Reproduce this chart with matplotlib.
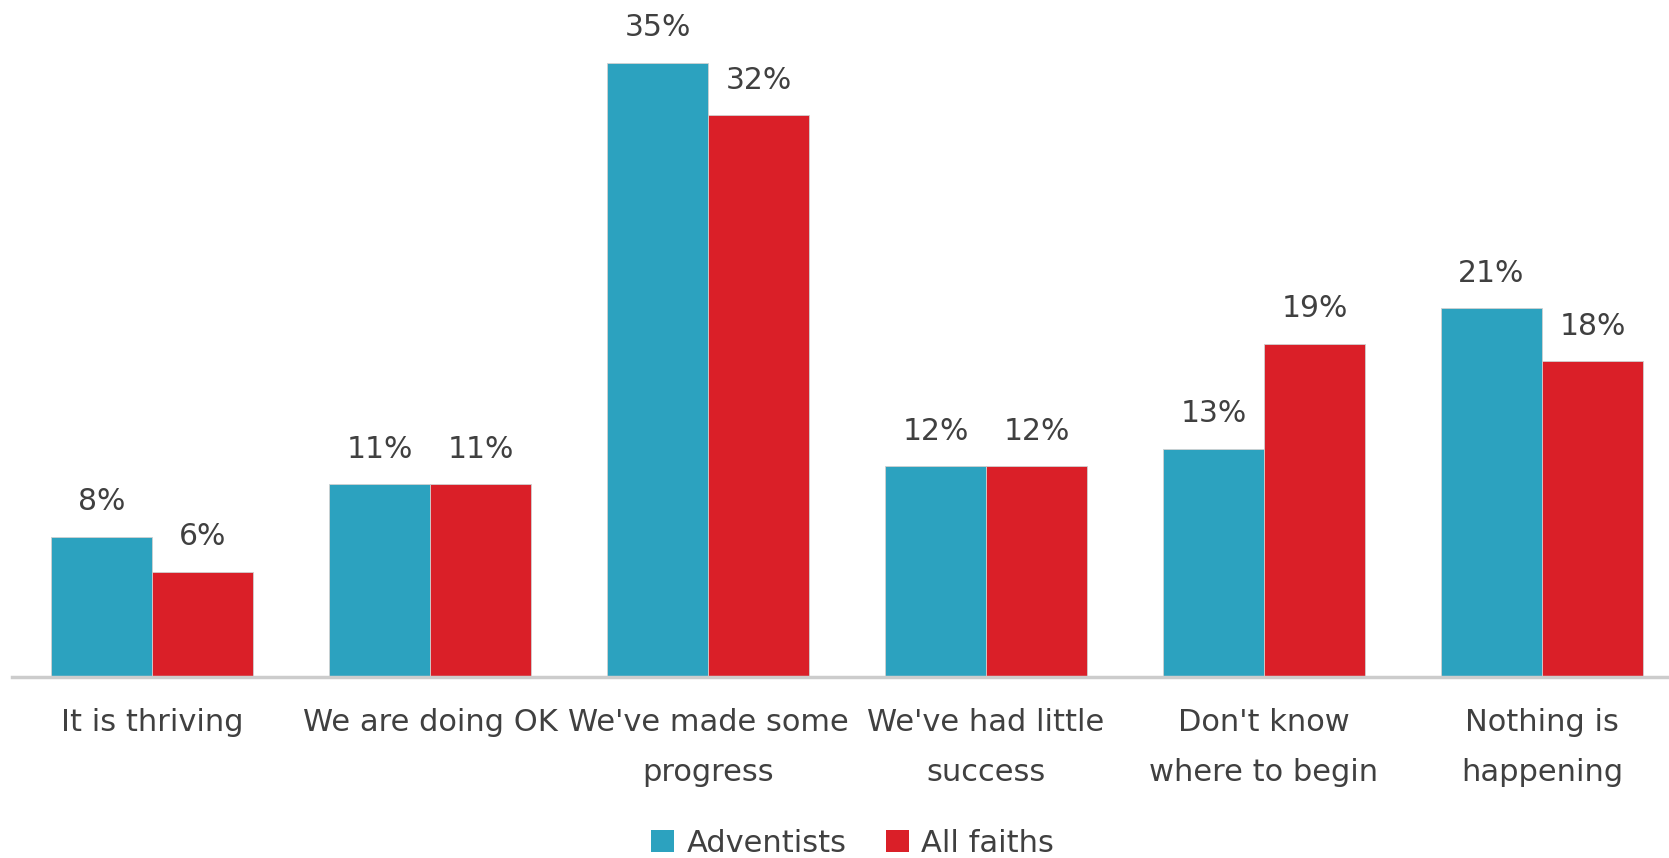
import matplotlib
matplotlib.use("Agg")
import matplotlib.pyplot as plt
import numpy as np
from matplotlib.patches import Patch

categories = ["It is thriving", "We are doing OK", "We've made some\nprogress",
              "We've had little\nsuccess", "Don't know\nwhere to begin", "Nothing is\nhappening"]
adventists = [8, 11, 35, 12, 13, 21]
all_faiths = [6, 11, 32, 12, 19, 18]
series_names = ["Adventists", "All faiths"]

blue = "#2CA2BF"
red = "#DA1F28"
text_col = "#404040"

plt.rcParams['font.family'] = ['DejaVu Sans']

fig = plt.figure(figsize=(16.69, 8.58), dpi=100)
ax = fig.add_axes([12/1669, 181/858, 1 - 12/1669, (677 - 10)/858])

x = np.arange(len(categories))
w = 101/278
b1 = ax.bar(x - w/2, adventists, w, color=blue, edgecolor="#d0d0d0", linewidth=0.6)
b2 = ax.bar(x + w/2, all_faiths, w, color=red, edgecolor="#d0d0d0", linewidth=0.6)

for bars, vals in ((b1, adventists), (b2, all_faiths)):
    for r, v in zip(bars, vals):
        ax.annotate(f"{v}%", (r.get_x() + r.get_width()/2, v), xytext=(0, 19),
                    textcoords="offset points", ha="center", va="baseline",
                    fontsize=21.5, color=text_col)

ax.set_xlim(-0.504, 5.457)
ax.set_ylim(0, 38)
ax.set_xticks(x)
ax.set_xticklabels(categories, fontsize=22, color=text_col, linespacing=1.95)
ax.tick_params(axis='x', length=0, pad=22)
ax.set_yticks([])
for s in ("top", "right", "left"):
    ax.spines[s].set_visible(False)
ax.spines["bottom"].set_color("#cccccc")
ax.spines["bottom"].set_linewidth(2.5)

handles = [Patch(facecolor=blue, label=series_names[0]), Patch(facecolor=red, label=series_names[1])]
fig.legend(handles=handles, loc="lower center", bbox_to_anchor=(0.511, -0.032), ncol=2,
           frameon=False, fontsize=22, handlelength=0.75, handleheight=0.75,
           handletextpad=0.4, columnspacing=1.3, labelcolor=text_col)

fig.savefig("out.png", dpi=100)
